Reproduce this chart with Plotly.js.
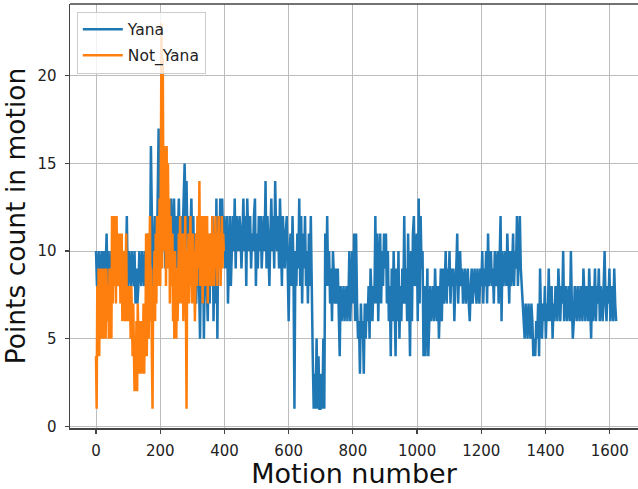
<!DOCTYPE html>
<html>
<head>
<meta charset="utf-8">
<script src="https://cdn.plot.ly/plotly-3.0.1.min.js"></script>
<style>html,body{margin:0;padding:0;background:#fff;}#chart{width:638px;height:489px;}</style>
</head>
<body>
<div id="chart"></div>
<script>
// Series names
const seriesNames = ["Yana", "Not_Yana"];

// Yana: point count, one value read every 3 motions (motion 0 .. 1620)
const yanaStep = 3;
const yanaPart1 = [ // motions 0-297
  10,8,9,10,8,9,10,8,10,9,
  9,11,8,10,9,8,10,9,8,10,
  9,8,10,9,8,10,8,9,10,8,
  10,9,12,8,10,9,8,10,9,8,
  10,7,9,7,8,10,9,8,10,9,
  8,10,9,8,11,10,9,16,10,8,
  9,12,10,9,13,17,9,12,10,11,
  10,12,9,11,13,10,12,9,13,11,
  9,13,10,12,9,11,13,10,12,9,
  11,13,15,12,14,10,12,9,11,13
];
const yanaPart2 = [ // motions 300-597
  10,12,8,11,7,9,12,8,5,10,
  7,11,5,9,12,8,6,10,7,11,
  8,12,6,10,7,13,5,12,9,13,
  9,13,10,12,9,11,12,7,10,12,
  8,11,12,10,13,9,12,11,10,12,
  11,9,12,13,10,12,8,13,11,10,
  12,9,11,10,12,13,8,11,9,12,
  10,12,9,11,12,10,14,9,12,10,
  8,11,13,10,12,9,14,11,10,12,
  9,13,11,8,12,10,9,11,12,9
];
const yanaPart3 = [ // motions 600-897
  6,10,11,8,12,9,1,10,8,11,
  9,13,8,12,7,11,9,12,8,10,
  7,11,8,12,7,4,1,3,1,5,
  1,4,1,1,3,1,5,1,11,8,
  12,8,10,7,9,6,10,8,7,9,
  7,9,6,4,8,6,7,8,6,7,
  8,6,7,10,6,8,10,7,11,6,
  11,7,5,6,3,7,5,6,3,7,
  5,7,6,8,5,9,7,6,8,7,
  12,7,11,6,9,11,7,10,8,11
];
const yanaPart4 = [ // motions 900-1197
  9,11,7,10,6,8,4,9,6,10,
  7,4,9,6,10,5,8,6,9,7,
  12,7,9,6,11,8,4,10,6,11,
  12,8,9,11,6,13,7,12,9,10,
  4,8,4,6,9,4,7,8,6,7,
  8,6,9,7,6,8,5,7,9,6,
  9,7,8,10,7,9,8,10,7,9,
  8,9,6,8,9,11,7,9,10,8,
  9,7,8,9,7,8,9,7,6,8,
  9,7,8,9,8,7,9,8,7,9
];
const yanaPart5 = [ // motions 1200-1497
  8,10,7,9,8,10,7,11,8,9,
  10,8,9,7,10,8,9,10,7,9,
  12,6,10,8,9,10,8,11,9,7,
  10,8,9,11,8,10,9,12,8,10,
  12,9,8,7,6,5,7,6,5,7,
  6,5,7,6,4,5,4,6,5,7,
  4,9,6,5,7,6,8,5,7,6,
  9,6,7,8,5,7,6,8,7,6,
  9,7,6,8,7,10,6,7,8,6,
  7,8,6,10,7,5,6,8,7,6
];
const yanaPart6 = [ // motions 1500-1620
  8,7,6,8,7,6,9,7,6,8,
  7,6,9,7,5,8,6,7,9,6,
  8,7,9,6,8,7,6,8,10,7,
  6,8,7,9,6,7,8,6,9,7,
  6
];

// Not_Yana: point count, one value read every 2 motions (motion 0 .. 398)
const notYanaStep = 2;
const notYanaPart1 = [ // motions 0-198
  4,1,8,5,9,4,8,6,9,5,
  8,5,9,6,8,5,9,7,6,8,
  5,9,6,8,5,12,7,10,12,8,
  11,7,12,9,11,8,10,11,7,9,
  11,6,9,7,10,6,8,11,6,7,
  6,8,6,7,5,8,6,4,7,2,
  2,5,3,6,2,7,4,3,6,3,
  5,3,6,4,7,3,6,5,11,4,
  7,11,5,8,12,6,9,4,1,8,
  7,10,6,11,7,12,8,10,9,13
];
const notYanaPart2 = [ // motions 200-398
  8,15,23,9,21,12,16,10,13,8,
  16,9,15,11,13,7,12,10,8,11,
  6,9,5,10,7,5,9,6,8,11,
  7,12,8,10,7,11,6,9,8,12,
  7,1,10,8,11,7,9,12,8,10,
  7,11,8,10,6,9,11,8,12,9,
  10,14,8,11,9,12,7,10,8,12,
  9,11,8,12,7,10,9,11,8,10,
  8,12,9,11,8,10,12,9,11,8,
  10,12,9,11,8,10,12,9,11,10
];

// Axis ticks and titles
const xTicks = [0, 200, 400, 600, 800, 1000, 1200, 1400, 1600];
const yTicks = [0, 5, 10, 15, 20];
const xTitle = "Motion number";
const yTitle = "Points count in motion";

const yanaCounts = [].concat(yanaPart1, yanaPart2, yanaPart3, yanaPart4, yanaPart5, yanaPart6);
const notYanaCounts = [].concat(notYanaPart1, notYanaPart2);
const yanaMotion = yanaCounts.map((_, i) => i * yanaStep);
const notYanaMotion = notYanaCounts.map((_, i) => i * notYanaStep);

const font = "DejaVu Sans, Liberation Sans, sans-serif";

const traces = [
  {x: yanaMotion, y: yanaCounts, name: seriesNames[0], type: "scatter", mode: "lines",
   legendgroup: "a", line: {color: "#1f77b4", width: 2.5}},
  {x: notYanaMotion, y: notYanaCounts, name: seriesNames[1], type: "scatter", mode: "lines",
   legendgroup: "b", line: {color: "#ff7f0e", width: 2.5}}
];

const axisCommon = {
  showgrid: true, gridcolor: "#bdbdbd", gridwidth: 1,
  zeroline: false, showline: true, linecolor: "#444", linewidth: 1.5,
  ticks: "outside", ticklen: 4, tickwidth: 1.2, tickcolor: "#444",
  tickfont: {family: font, size: 15, color: "#222"}
};

const layout = {
  width: 638, height: 489,
  margin: {l: 70, r: 0, t: 4, b: 61},
  paper_bgcolor: "#fff", plot_bgcolor: "#fff",
  showlegend: true,
  xaxis: Object.assign({}, axisCommon, {
    range: [-81, 1688], tickvals: xTicks, ticktext: xTicks.map(String),
    ticklabelstandoff: 4,
    title: {text: xTitle, font: {family: font, size: 27, color: "#111"}, standoff: 7}
  }),
  yaxis: Object.assign({}, axisCommon, {
    range: [-0.1, 24.1], tickvals: yTicks, ticktext: yTicks.map(String),
    ticklabelstandoff: 5,
    title: {text: yTitle, font: {family: font, size: 26.5, color: "#111"}, standoff: 8}
  }),
  legend: {
    x: 0.012, y: 0.982, xanchor: "left", yanchor: "top",
    bgcolor: "rgba(255,255,255,0.8)", bordercolor: "#cccccc", borderwidth: 1,
    font: {family: font, size: 15.5, color: "#222"},
    itemwidth: 40, tracegroupgap: 3
  },
  shapes: [
    {type: "line", xref: "paper", yref: "paper", x0: 0, x1: 1, y0: 1, y1: 1,
     line: {color: "#444", width: 1.5}}
  ]
};

Plotly.newPlot("chart", traces, layout, {displayModeBar: false, staticPlot: true});
</script>
</body>
</html>
